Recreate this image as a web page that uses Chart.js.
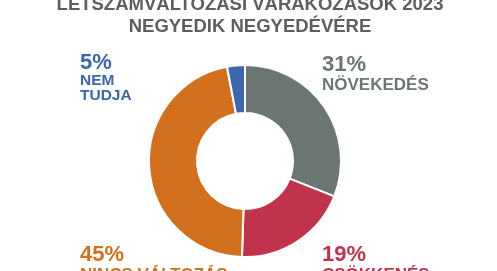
<!DOCTYPE html>
<html>
<head>
<meta charset="utf-8">
<script src="https://cdn.jsdelivr.net/npm/chart.js@4.4.1/dist/chart.umd.min.js"></script>
<style>
  html, body { margin:0; padding:0; background:#ffffff; }
  #wrap { position:relative; width:497px; height:271px; overflow:hidden; }
</style>
</head>
<body>
<div id="wrap"><canvas id="c" width="497" height="271"></canvas></div>
<script>
// Data (arc shares, clockwise from 12 o'clock)
const categories = ['NÖVEKEDÉS', 'CSÖKKENÉS', 'NINCS VÁLTOZÁS', 'NEM TUDJA'];
const arcValues = [31, 19.5, 46.5, 3];
const percentLabels = ['31%', '19%', '45%', '5%'];
const nameLines = [['NÖVEKEDÉS'], ['CSÖKKENÉS'], ['NINCS VÁLTOZÁS'], ['NEM', 'TUDJA']];
const colors = ['#6b7671', '#c1324d', '#d3701d', '#3c66ae'];
const titleLines = ['LÉTSZÁMVÁLTOZÁSI VÁRAKOZÁSOK 2023', 'NEGYEDIK NEGYEDÉVÉRE'];

// label placement (style, not data)
const labelPos = [
  {x:322, y:71, pctSize:22, nameSize:17, lineH:19},
  {x:322, y:261, pctSize:22, nameSize:17, lineH:19},
  {x:80, y:261, pctSize:22, nameSize:17, lineH:19},
  {x:80, y:69, pctSize:22, nameSize:15.5, lineH:15.5}
];

const textPlugin = {
  id: 'texts',
  afterDraw(chart) {
    const ctx = chart.ctx;
    ctx.save();
    ctx.textBaseline = 'alphabetic';
    // title
    ctx.fillStyle = '#5e5e5e';
    ctx.textAlign = 'center';
    ctx.font = 'bold 18.5px "Liberation Sans", Arial, sans-serif';
    ctx.fillText(titleLines[0], 250, 10);
    ctx.fillText(titleLines[1], 250, 32);
    // labels
    ctx.textAlign = 'left';
    categories.forEach((c, i) => {
      const p = labelPos[i];
      ctx.fillStyle = colors[i];
      ctx.font = 'bold ' + p.pctSize + 'px "Liberation Sans", Arial, sans-serif';
      ctx.fillText(percentLabels[i], p.x, p.y);
      ctx.font = 'bold ' + p.nameSize + 'px "Liberation Sans", Arial, sans-serif';
      nameLines[i].forEach((ln, k) => {
        ctx.fillText(ln, p.x, p.y + (k + 1) * p.lineH);
      });
    });
    ctx.restore();
  }
};

new Chart(document.getElementById('c'), {
  type: 'doughnut',
  data: {
    labels: categories,
    datasets: [{
      data: arcValues,
      backgroundColor: colors,
      borderColor: '#ffffff',
      borderWidth: 2
    }]
  },
  options: {
    responsive: false,
    animation: false,
    cutout: '50%',
    layout: { padding: { left: 148, right: 155, top: 64, bottom: 13 } },
    plugins: {
      legend: { display: false },
      title: { display: false },
      tooltip: { enabled: false }
    }
  },
  plugins: [textPlugin]
});
</script>
</body>
</html>
